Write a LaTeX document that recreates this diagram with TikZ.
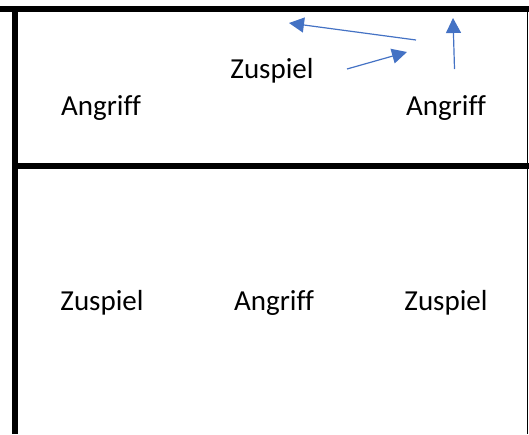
\documentclass[tikz,border=0pt]{standalone}
\usepackage{fontspec}
\setmainfont[Ligatures=NoCommon]{Carlito}
\usetikzlibrary{arrows.meta}
\definecolor{arrowblue}{HTML}{4472C4}
\tikzset{
  lbl/.style={font=\fontsize{29}{32}\selectfont, text=black, inner sep=0pt},
  thickline/.style={line width=6pt, black},
  thinline/.style={line width=1.5pt, black},
  pass/.style={arrowblue, line width=1.2pt, -{Triangle[length=15pt,width=15pt]}}
}
\begin{document}
\begin{tikzpicture}[x=1pt,y=-1pt]
\useasboundingbox (0,0) rectangle (529,434);
% court lines
\draw[thickline] (0,9) -- (529,9);
\draw[thickline] (15,12) -- (15,434);
\draw[thickline] (18,166) -- (529,166);
\draw[thinline] (527.5,12) -- (527.5,434);
% labels
\node[lbl] (a1) at (101,108) {Angriff};
\node[lbl] (z1) at (272,71) {Zuspiel};
\node[lbl] (a2) at (446,108) {Angriff};
\node[lbl] (z2) at (102,303) {Zuspiel};
\node[lbl] (a3) at (274,303) {Angriff};
\node[lbl] (z3) at (446,303) {Zuspiel};
% arrows
\coordinate (p1s) at (416,40);
\coordinate (p1e) at (289,23);
\coordinate (p2s) at (347,69);
\coordinate (p2e) at (407,52);
\coordinate (p3s) at (454.5,69);
\coordinate (p3e) at (453,18);
\draw[pass] (p1s) -- (p1e);
\draw[pass] (p2s) -- (p2e);
\draw[pass] (p3s) -- (p3e);
\end{tikzpicture}
\end{document}
